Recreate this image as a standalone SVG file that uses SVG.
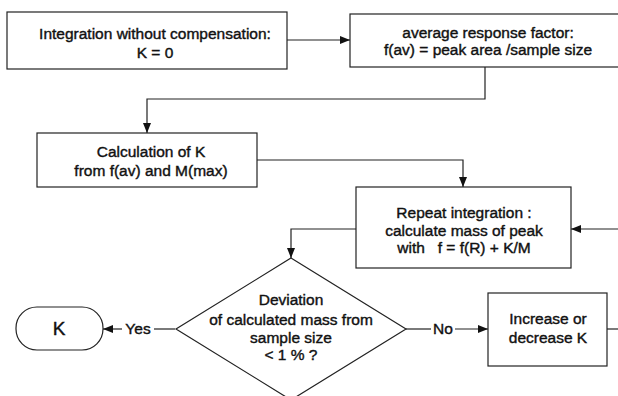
<svg xmlns="http://www.w3.org/2000/svg" width="618" height="396" viewBox="0 0 618 396">
<defs>
<marker id="ah" viewBox="0 0 10 8" refX="10" refY="4" markerWidth="10" markerHeight="8" markerUnits="userSpaceOnUse" orient="auto">
<path d="M0,0 L10,4 L0,8 Z" fill="#111"/>
</marker>
<style>
.box{fill:#fff;stroke:#222;stroke-width:1.2}
.ln{fill:none;stroke:#222;stroke-width:1.2}
.t{font-family:"Liberation Sans",Arial,sans-serif;font-size:15.5px;font-weight:normal;fill:#111;stroke:#111;stroke-width:0.4;text-anchor:middle}
</style>
</defs>
<rect width="618" height="396" fill="#fff"/>
<g id="connectors">
<path class="ln" d="M287,40 H350" marker-end="url(#ah)"/>
<path class="ln" d="M485,67 V99 H147 V133" marker-end="url(#ah)"/>
<path class="ln" d="M257,160 H463 V187" marker-end="url(#ah)"/>
<path class="ln" d="M618,229 H571" marker-end="url(#ah)"/>
<path class="ln" d="M356,229 H291 V258" marker-end="url(#ah)"/>
<path class="ln" d="M175,329 H154"/>
<path class="ln" d="M122,329 H103" marker-end="url(#ah)"/>
<path class="ln" d="M406,329 H431"/>
<path class="ln" d="M455,329 H488" marker-end="url(#ah)"/>
<path class="ln" d="M607,329 H618"/>
<text class="t" x="138" y="334">Yes</text>
<text class="t" x="443" y="334">No</text>
</g>
<g id="n1">
<rect class="box" x="7" y="12" width="280" height="57"/>
<text class="t" x="155" y="38.5">Integration without compensation:</text>
<text class="t" x="155" y="57.5">K = 0</text>
</g>
<g id="n2">
<rect class="box" x="350" y="14" width="272" height="53"/>
<text class="t" x="488" y="37.5">average response factor:</text>
<text class="t" x="488" y="54.5">f(av) = peak area /sample size</text>
</g>
<g id="n3">
<rect class="box" x="37" y="133" width="220" height="54"/>
<text class="t" x="151" y="156.5">Calculation of K</text>
<text class="t" x="151" y="175.5">from f(av) and M(max)</text>
</g>
<g id="n4">
<rect class="box" x="356" y="187" width="215" height="81"/>
<text class="t" x="464" y="218">Repeat integration :</text>
<text class="t" x="464" y="236">calculate mass of peak</text>
<text class="t" x="464" y="253" xml:space="preserve">with   f = f(R) + K/M</text>
</g>
<g id="n5">
<path class="box" d="M291,258 L406,329 L291,400 L176,329 Z"/>
<text class="t" x="291" y="305">Deviation</text>
<text class="t" x="291" y="325">of calculated mass from</text>
<text class="t" x="291" y="343">sample size</text>
<text class="t" x="291" y="360">&lt; 1 % ?</text>
</g>
<g id="n6">
<rect class="box" x="16" y="307" width="87" height="43" rx="21" ry="21"/>
<text class="t" x="59" y="335" style="font-size:19px">K</text>
</g>
<g id="n7">
<rect class="box" x="488" y="293" width="119" height="73"/>
<text class="t" x="548" y="324">Increase or</text>
<text class="t" x="548" y="343">decrease K</text>
</g>
</svg>
